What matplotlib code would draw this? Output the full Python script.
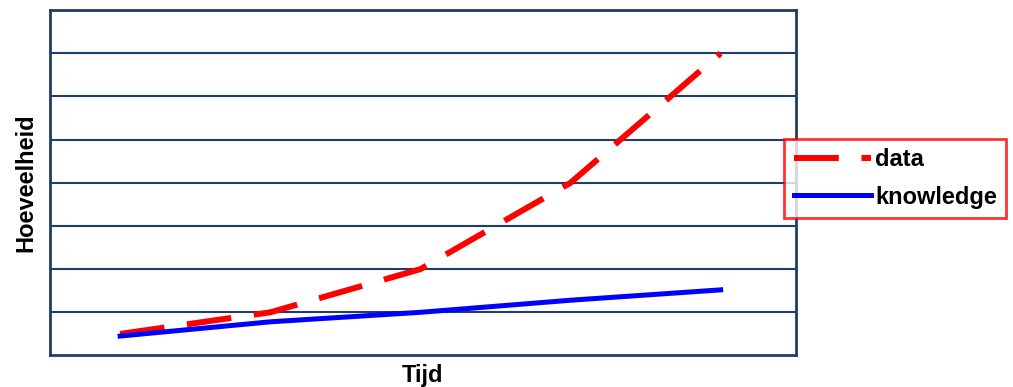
import matplotlib.pyplot as plt

plt.rcParams['font.family'] = ['Liberation Sans', 'DejaVu Sans']

tijd = [1, 2, 3, 4, 5]
data = [0.5, 1.0, 2.0, 4.0, 7.0]
knowledge = [0.45, 0.78, 1.0, 1.28, 1.52]

navy = '#1f3d66'

fig = plt.figure(figsize=(10.13, 3.87), dpi=100)
ax = fig.add_axes([0.0489, 0.0814, 0.7366, 0.8926])

ax.plot(tijd, data, color='#ff0000', lw=4.3, dashes=(7.5, 3.8), label='data', zorder=3)
ax.plot(tijd, knowledge, color='#0000ff', lw=3.6, label='knowledge', zorder=3)

ax.set_xlim(0.53, 5.5)
ax.set_ylim(0, 8)
ax.set_yticks(range(1, 8))
ax.set_xticks([])
ax.tick_params(axis='y', length=0, labelleft=False)
ax.grid(axis='y', color=navy, lw=1.5)
for s in ax.spines.values():
    s.set_color(navy)
    s.set_linewidth(2)

ax.set_xlabel('Tijd', fontsize=17, fontweight='bold', labelpad=6)
ax.set_ylabel('Hoeveelheid', fontsize=17, fontweight='bold', labelpad=9)

leg = ax.legend(loc='upper left', bbox_to_anchor=(0.774, 0.641), bbox_transform=fig.transFigure,
                borderaxespad=0, fancybox=False, edgecolor='#ff0000', handlelength=3.3,
                handletextpad=0.15, labelspacing=0.6, borderpad=0.4,
                prop={'size': 17, 'weight': 'bold'})
leg.get_frame().set_linewidth(2)

fig.savefig('out.png', dpi=100)
